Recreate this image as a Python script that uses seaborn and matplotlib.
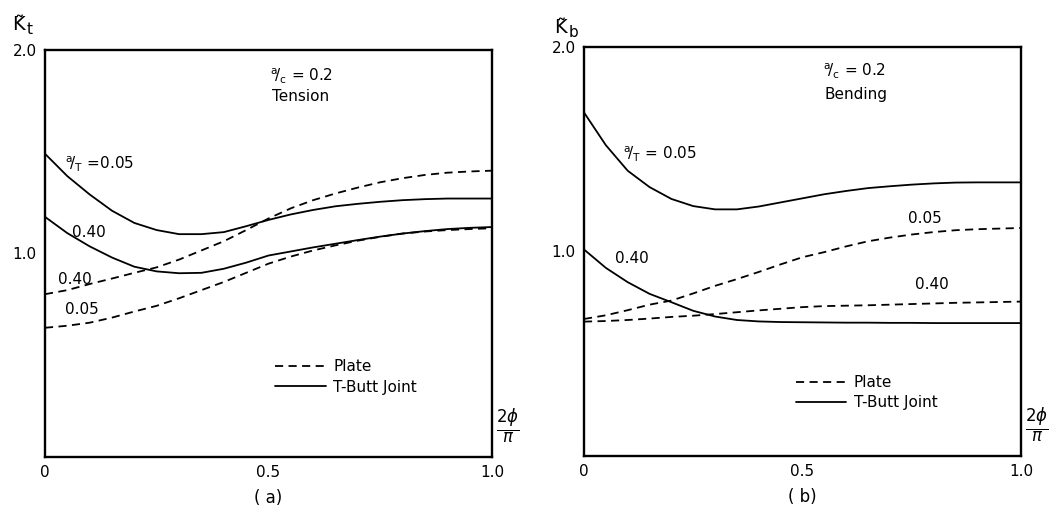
import matplotlib
matplotlib.use("Agg")
import matplotlib.pyplot as plt
from matplotlib.lines import Line2D
import seaborn as sns

# Normalised crack-front position 2*phi/pi
phi = [0.00, 0.05, 0.10, 0.15, 0.20, 0.25, 0.30, 0.35, 0.40, 0.45, 0.50,
       0.55, 0.60, 0.65, 0.70, 0.75, 0.80, 0.85, 0.90, 0.95, 1.00]

# (a) Tension, a/c = 0.2
kt_tbutt_005 = [1.49, 1.38, 1.29, 1.21, 1.15, 1.115, 1.095, 1.095, 1.105, 1.134, 1.165,
                1.192, 1.214, 1.232, 1.244, 1.254, 1.262, 1.267, 1.270, 1.270, 1.270]
kt_tbutt_040 = [1.18, 1.10, 1.035, 0.98, 0.935, 0.912, 0.903, 0.905, 0.925, 0.955, 0.99,
                1.01, 1.03, 1.048, 1.066, 1.083, 1.098, 1.11, 1.12, 1.126, 1.13]
kt_plate_040 = [0.80, 0.82, 0.85, 0.877, 0.905, 0.932, 0.97, 1.015, 1.06, 1.115, 1.172,
                1.222, 1.262, 1.295, 1.324, 1.35, 1.37, 1.386, 1.397, 1.403, 1.407]
kt_plate_005 = [0.635, 0.645, 0.66, 0.685, 0.715, 0.743, 0.78, 0.82, 0.86, 0.905, 0.95,
                0.985, 1.015, 1.04, 1.063, 1.082, 1.098, 1.108, 1.115, 1.12, 1.124]

# (b) Bending, a/c = 0.2
kb_tbutt_005 = [1.68, 1.52, 1.395, 1.315, 1.257, 1.222, 1.206, 1.206, 1.22, 1.24, 1.26,
                1.28, 1.296, 1.31, 1.319, 1.327, 1.333, 1.337, 1.338, 1.338, 1.338]
kb_tbutt_040 = [1.01, 0.92, 0.85, 0.793, 0.752, 0.71, 0.682, 0.665, 0.658, 0.655, 0.654,
                0.653, 0.652, 0.652, 0.651, 0.651, 0.65, 0.65, 0.65, 0.65, 0.65]
kb_plate_005 = [0.67, 0.688, 0.713, 0.74, 0.76, 0.795, 0.832, 0.865, 0.90, 0.937, 0.972,
                0.997, 1.025, 1.05, 1.068, 1.083, 1.095, 1.104, 1.109, 1.112, 1.115]
kb_plate_040 = [0.657, 0.66, 0.665, 0.672, 0.68, 0.686, 0.694, 0.703, 0.712, 0.72, 0.728,
                0.733, 0.735, 0.737, 0.74, 0.743, 0.746, 0.749, 0.751, 0.753, 0.755]

x_ticks = [0, 0.5, 1.0]
x_ticklabels = ["0", "0.5", "1.0"]
y_ticks = [1.0, 2.0]
y_ticklabels = ["1.0", "2.0"]

sns.set_style("white")
plt.rcParams["font.family"] = ["DejaVu Sans"]
plt.rcParams["mathtext.fontset"] = "dejavusans"
plt.rcParams["text.color"] = "black"

DASH = (0, (4.5, 3.0))
LW = 1.3
FS = 11
W, H = 1061, 512

fig = plt.figure(figsize=(10.61, 5.12), dpi=100)
ax_a = fig.add_axes([0.0424, 0.1074, 0.4213, 0.7950])
ax_b = fig.add_axes([0.5504, 0.1094, 0.4119, 0.7988])


def ftext(px, py, s, **kw):
    """Place text at a pixel position measured from the top-left corner."""
    fig.text(px / W, 1 - py / H, s, **kw)


def style_axes(ax):
    ax.set_xlim(0, 1.0)
    ax.set_ylim(0, 2.0)
    ax.set_xticks(x_ticks)
    ax.set_xticklabels(x_ticklabels)
    ax.set_yticks(y_ticks)
    ax.set_yticklabels(y_ticklabels)
    ax.tick_params(axis="both", direction="in", length=8, width=1.2,
                   colors="black", labelsize=FS, pad=6)
    ax.tick_params(axis="y", length=7)
    for s in ax.spines.values():
        s.set_visible(True)
        s.set_linewidth(1.7)
        s.set_color("black")
    ax.set_xlabel("")
    ax.set_ylabel("")
    ax.text(1.036, 0.075, r"$\frac{2\phi}{\pi}$", transform=ax.transAxes,
            fontsize=17, ha="center", va="center")


def legend(ax, x, y):
    handles = [Line2D([], [], color="black", lw=LW, linestyle=DASH),
               Line2D([], [], color="black", lw=LW)]
    ax.legend(handles, ["Plate", "T-Butt Joint"], loc="upper left",
              bbox_to_anchor=(x, y), frameon=False, fontsize=FS,
              handlelength=3.3, handletextpad=0.5, labelspacing=0.35,
              borderaxespad=0, borderpad=0)


def k_label(px, py, sub):
    ftext(px, py, "K\u0303", fontsize=14, ha="center", va="baseline")
    ftext(px + 9, py + 4, sub, fontsize=11, ha="left", va="baseline")


# ---- (a) Tension
for vals, ls in [(kt_tbutt_005, "-"), (kt_tbutt_040, "-"),
                 (kt_plate_040, DASH), (kt_plate_005, DASH)]:
    sns.lineplot(x=phi, y=vals, ax=ax_a, color="black", lw=LW, linestyle=ls)
style_axes(ax_a)
k_label(18, 30, "t")
ax_a.text(0.503, 1.87, r"$\mathregular{^{a}\!/_{c}}$ = 0.2", fontsize=FS, va="center")
ax_a.text(0.508, 1.77, "Tension", fontsize=FS, va="center")
ax_a.text(0.045, 1.44, r"$\mathregular{^{a}\!/_{T}}$ =0.05", fontsize=FS, va="center")
ax_a.text(0.06, 1.105, "0.40", fontsize=FS, va="center")
ax_a.text(0.03, 0.87, "0.40", fontsize=FS, va="center")
ax_a.text(0.045, 0.725, "0.05", fontsize=FS, va="center")
ax_a.text(0.5, -0.10, "( a)", transform=ax_a.transAxes, fontsize=FS + 1,
          ha="center", va="center")
legend(ax_a, 0.515, 0.24)

# ---- (b) Bending
for vals, ls in [(kb_tbutt_005, "-"), (kb_tbutt_040, "-"),
                 (kb_plate_005, DASH), (kb_plate_040, DASH)]:
    sns.lineplot(x=phi, y=vals, ax=ax_b, color="black", lw=LW, linestyle=ls)
style_axes(ax_b)
k_label(560, 33, "b")
ax_b.text(0.547, 1.88, r"$\mathregular{^{a}\!/_{c}}$ = 0.2", fontsize=FS, va="center")
ax_b.text(0.55, 1.767, "Bending", fontsize=FS, va="center")
ax_b.text(0.089, 1.476, r"$\mathregular{^{a}\!/_{T}}$ = 0.05", fontsize=FS, va="center")
ax_b.text(0.071, 0.966, "0.40", fontsize=FS, va="center")
ax_b.text(0.742, 1.16, "0.05", fontsize=FS, va="center")
ax_b.text(0.758, 0.837, "0.40", fontsize=FS, va="center")
ax_b.text(0.5, -0.10, "( b)", transform=ax_b.transAxes, fontsize=FS + 1,
          ha="center", va="center")
legend(ax_b, 0.485, 0.198)

fig.savefig("out.png", dpi=100)
